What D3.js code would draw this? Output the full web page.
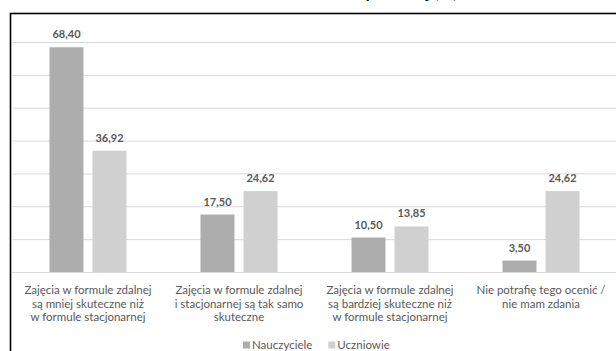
<!DOCTYPE html>
<html>
<head>
<meta charset="utf-8">
<script src="https://cdn.jsdelivr.net/npm/d3@7/dist/d3.min.js"></script>
<style>
  html, body { margin: 0; padding: 0; background: #fff; }
  svg { display: block; }
  text { font-family: Lato, "Open Sans", sans-serif; }
</style>
</head>
<body>
<svg id="chart" width="616" height="351"></svg>
<script>
const title = "Ocena skuteczności formy zdalnej (%)";
const categories = [
  ["Zajęcia w formule zdalnej", "są mniej skuteczne niż", "w formule stacjonarnej"],
  ["Zajęcia w formule zdalnej", "i stacjonarnej są tak samo", "skuteczne"],
  ["Zajęcia w formule zdalnej", "są bardziej skuteczne niż", "w formule stacjonarnej"],
  ["Nie potrafię tego ocenić /", "nie mam zdania"]
];
const seriesNames = ["Nauczyciele", "Uczniowie"];
const nauczyciele = [68.40, 17.50, 10.50, 3.50];
const uczniowie = [36.92, 24.62, 13.85, 24.62];
const yTicks = [0, 10, 20, 30, 40, 50, 60, 70];
const colors = ["#adadad", "#d0d0d0"];

const values = [nauczyciele, uczniowie];
const svg = d3.select("#chart");

// frame
svg.append("rect")
  .attr("x", 10.5).attr("y", 13.5)
  .attr("width", 800).attr("height", 500)
  .attr("fill", "none").attr("stroke", "#000").attr("stroke-width", 1.6);

// title (cut off at the top in the reference: only descenders show)
svg.append("text")
  .attr("x", 316).attr("y", -2)
  .attr("text-anchor", "middle")
  .attr("font-size", 17).attr("font-weight", "bold")
  .attr("fill", "#000")
  .text(title);

const x = d3.scaleBand().domain(d3.range(categories.length)).range([12.5, 616.5]);
const xs = d3.scaleBand().domain(seriesNames).range([37, 114]).paddingInner(0.21);
const y = d3.scaleLinear().domain([0, 70]).range([272, 42]);

// gridlines
const grid = svg.append("g")
  .attr("transform", "translate(12.5,0)")
  .call(d3.axisLeft(y).tickValues(yTicks).tickSize(-604).tickFormat(""));
grid.select(".domain").remove();
grid.selectAll(".tick line").attr("stroke", "#d9d9d9").attr("stroke-width", 1);

// bars
seriesNames.forEach((s, si) => {
  const g = svg.append("g");
  g.selectAll("rect").data(values[si]).enter().append("rect")
    .attr("x", (d, i) => x(i) + xs(s))
    .attr("y", d => y(d))
    .attr("width", xs.bandwidth())
    .attr("height", d => y(0) - y(d))
    .attr("fill", colors[si]);
  g.selectAll("text").data(values[si]).enter().append("text")
    .attr("x", (d, i) => x(i) + xs(s) + xs.bandwidth() / 2)
    .attr("y", d => y(d) - 9)
    .attr("text-anchor", "middle")
    .attr("font-size", 11).attr("font-weight", "bold")
    .attr("fill", "#595959")
    .text(d => d.toFixed(2).replace(".", ","));
});

// baseline
svg.append("line")
  .attr("x1", 12.5).attr("x2", 616.5)
  .attr("y1", y(0) + 0.5).attr("y2", y(0) + 0.5)
  .attr("stroke", "#d9d9d9");

// category labels
const xAxis = svg.append("g");
categories.forEach((lines, i) => {
  const t = xAxis.append("text")
    .attr("x", x(i) + x.bandwidth() / 2)
    .attr("y", 294)
    .attr("text-anchor", "middle")
    .attr("font-size", 11.5)
    .attr("fill", "#595959");
  lines.forEach((l, li) => {
    t.append("tspan").attr("x", x(i) + x.bandwidth() / 2).attr("dy", li === 0 ? 0 : 13.6).text(l);
  });
});

// legend
const legend = svg.append("g").attr("transform", "translate(243,0)");
let lx = 0;
seriesNames.forEach((s, si) => {
  legend.append("rect").attr("x", lx).attr("y", 341.5).attr("width", 7).attr("height", 7).attr("fill", colors[si]);
  const t = legend.append("text").attr("x", lx + 9).attr("y", 349)
    .attr("font-size", 11.5).attr("fill", "#595959").text(s);
  lx += 9 + t.node().getComputedTextLength() + 16;
});
</script>
</body>
</html>
